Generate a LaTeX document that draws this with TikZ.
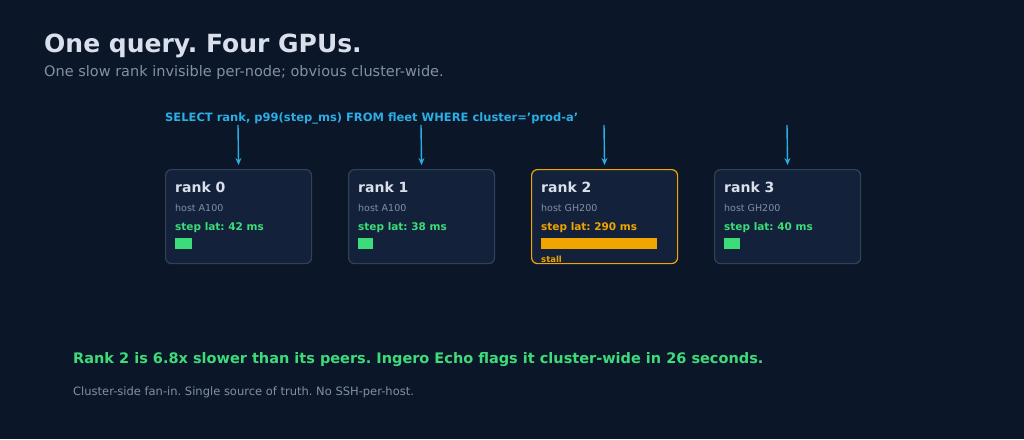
\documentclass[tikz,border=0pt]{standalone}
\usepackage{fontspec}
\setmainfont{DejaVu Sans}
\frenchspacing
\definecolor{bg}{HTML}{0C1629}
\definecolor{boxf}{HTML}{13213A}
\definecolor{boxd}{HTML}{334155}
\definecolor{ttl}{HTML}{D9E0EC}
\definecolor{gry}{HTML}{8190A6}
\definecolor{cyn}{HTML}{2AAEE3}
\definecolor{grn}{HTML}{3DDC7A}
\definecolor{org}{HTML}{F0A500}
\tikzset{
 rankbox/.style={draw=boxd,fill=boxf,line width=1.2pt,rounded corners=6pt},
 hot/.style={rankbox,draw=org},
 txt/.style={anchor=base west,inner sep=0pt},
 feed/.style={draw=cyn,line width=1.4pt,shorten >=4pt,-{Stealth[length=7pt,width=6pt]}},
}
\usetikzlibrary{arrows.meta}
\begin{document}
\begin{tikzpicture}[x=1pt,y=-1pt]
\fill[bg] (0,0) rectangle (1024,439);
\useasboundingbox (0,0) rectangle (1024,439);
\node[txt,text=ttl,font=\fontsize{25}{28}\selectfont\bfseries] (title) at (44,52) {One query. Four GPUs.};
\node[txt,text=gry,font=\fontsize{14.5}{16}\selectfont] (sub) at (44,76) {One slow rank invisible per-node; obvious cluster-wide.};
\node[txt,text=cyn,font=\fontsize{11.5}{13}\selectfont\bfseries] (sql) at (165,121) {SELECT rank, p99(step\_ms) FROM fleet WHERE cluster='prod-a'};
\foreach \i/\x/\h/\v/\s in {0/165/A100/42/rankbox,1/348/A100/38/rankbox,2/531/GH200/290/hot,3/714/GH200/40/rankbox}{
  \node[\s,minimum width=146pt,minimum height=94pt,anchor=north west] (r\i) at (\x,169) {};
  \coordinate (q\i) at (\x+73,125);
  \draw[feed] (q\i) -- (r\i.north);
  \node[txt,text=ttl,font=\fontsize{14}{16}\selectfont\bfseries] (l\i) at (\x+10,192) {rank \i};
  \node[txt,text=gry,font=\fontsize{9.5}{11}\selectfont] (h\i) at (\x+10,211) {host \h};
}
\foreach \i/\x/\v in {0/165/42,1/348/38,3/714/40}{
  \node[txt,text=grn,font=\fontsize{10.5}{12}\selectfont\bfseries] (s\i) at (\x+10,230) {step lat: \v\ ms};
}
\node[txt,text=org,font=\fontsize{10.5}{12}\selectfont\bfseries] (s2) at (541,230) {step lat: 290 ms};
\fill[grn] (175,238) rectangle (192,249);
\fill[grn] (358,238) rectangle (373,249);
\fill[grn] (724,238) rectangle (740,249);
\fill[org] (541,238) rectangle (657,249);
\node[txt,text=org,font=\fontsize{8.5}{10}\selectfont\bfseries] (stall) at (541,262) {stall};
\node[txt,text=grn,font=\fontsize{14.5}{16}\selectfont\bfseries] (f1) at (73,363) {Rank 2 is 6.8x slower than its peers. Ingero Echo flags it cluster-wide in 26 seconds.};
\node[txt,text=gry,font=\fontsize{11.5}{13}\selectfont] (f2) at (73,395) {Cluster-side fan-in. Single source of truth. No SSH-per-host.};
\end{tikzpicture}
\end{document}
